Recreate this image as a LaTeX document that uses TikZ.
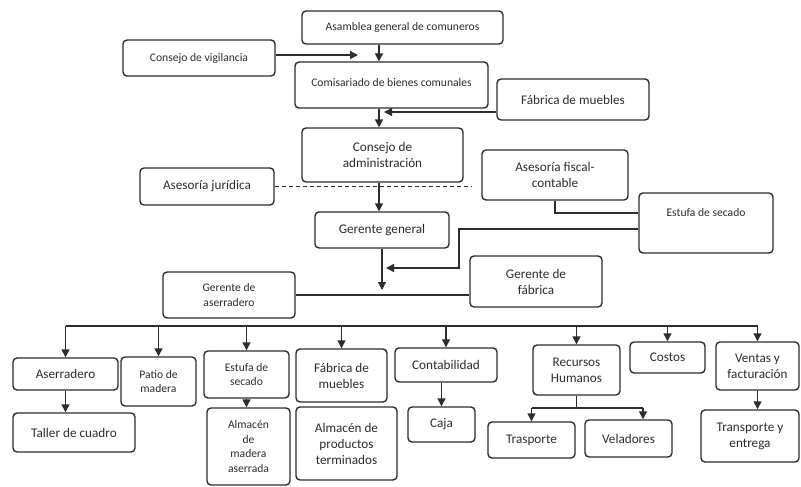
\documentclass[tikz,border=0pt]{standalone}
\usepackage{fontspec}
\setmainfont{Carlito}
\usetikzlibrary{arrows.meta, positioning, calc}
\definecolor{ink}{RGB}{45,45,45}

\begin{document}
\begin{tikzpicture}[x=1pt, y=-1pt,
    box/.style 2 args={draw=ink, text=ink, line width=1.4pt, rounded corners=4pt, align=center, inner sep=1pt,
        minimum width=#1pt, minimum height=#2pt, font=\fontsize{13.2}{16}\selectfont},
    sbox/.style 2 args={box={#1}{#2}, font=\fontsize{11.6}{14.4}\selectfont},
    arr/.style={draw=ink, line width=1.4pt, -{Triangle[length=8pt, width=8pt]}},
    link/.style={draw=ink, line width=1.3pt}]
    \useasboundingbox (0,0) rectangle (801,487);

    % upper part
    \node[sbox={201}{33}] (asamblea) at (402.5,27.5) {Asamblea general de comuneros};
    \node[sbox={152}{36}] (vigilancia) at (199,58) {Consejo de vigilancia};
    \node[sbox={193}{46}, text height=8pt, text depth=6pt] (comisariado) at (391.5,85) {Comisariado de bienes comunales};
    \node[box={152}{41}] (fabrica) at (573,99.5) {Fábrica de muebles};
    \node[box={161}{54}] (consejo) at (382.5,155) {Consejo de\\administración};
    \node[box={134}{37}] (juridica) at (207,186.5) {Asesoría jurídica};
    \node[box={146}{50}] (fiscal) at (555,175) {Asesoría fiscal-\\contable};
    \node[sbox={134}{60}, text height=9pt, text depth=23pt] (estufa) at (706,223) {Estufa de secado};
    \node[box={134}{36}] (gerente) at (382,230) {Gerente general};
    \node[sbox={132}{46}] (gaserradero) at (229,295) {Gerente de\\aserradero};
    \node[box={132}{51}] (gfabrica) at (536,281.5) {Gerente de\\fábrica};

    \coordinate (spine) at (379,0);
    \coordinate (vtip) at (358,55);
    \coordinate (ftip) at (384,112);
    \coordinate (turn) at (459,268);
    \coordinate (gtip) at (386,268);

    \draw[arr] (asamblea.south -| spine) -- (comisariado.north -| spine);
    \draw[arr] (comisariado.south -| spine) -- (consejo.north -| spine);
    \draw[arr] (consejo.south -| spine) -- (gerente.north -| spine);
    \draw[arr] (vigilancia.east |- vtip) -- (vtip);
    \draw[arr] (fabrica.west |- ftip) -- (ftip);
    \draw[link, dash pattern=on 4pt off 3pt, shorten >=10pt] (juridica.east) -- (juridica.east -| fiscal.west);
    \draw[link] (fiscal.south) |- ([yshift=10pt]estufa.west);
    \draw[arr] ([yshift=-6pt]estufa.west) -| (turn) -- (gtip);
    \draw[link] (gaserradero.east) -- (gaserradero.east -| gfabrica.west);
    \draw[arr, shorten >=5pt] (gerente.south) -- (gerente.south |- gaserradero.east);

    % departments
    \node[box={105}{32}] (aserradero) at (65.5,374) {Aserradero};
    \node[sbox={75}{49}] (patio) at (158.5,381.5) {Patio de\\madera};
    \node[sbox={85}{47}] (estufab) at (246.5,374.5) {Estufa de\\secado};
    \node[box={91}{53}] (fabricab) at (341.5,375.5) {Fábrica de\\muebles};
    \node[box={102}{34}] (contab) at (446,365) {Contabilidad};
    \node[box={87}{50}] (rrhh) at (576.5,370) {Recursos\\Humanos};
    \node[box={75}{31}] (costos) at (667.5,357.5) {Costos};
    \node[box={83}{48}] (ventas) at (757.5,366) {Ventas y\\facturación};

    \node[box={122}{39}] (taller) at (74,432.5) {Taller de cuadro};
    \node[sbox={83}{77}] (almacena) at (248.5,446.5) {Almacén\\de\\madera\\aserrada};
    \node[box={101}{73}] (almacenb) at (346.5,443.5) {Almacén de\\productos\\terminados};
    \node[box={67}{35}] (caja) at (441.5,424.5) {Caja};
    \node[box={87}{36}] (trasporte) at (531.5,440) {Trasporte};
    \node[box={87}{37}] (veladores) at (628.5,438.5) {Veladores};
    \node[box={98}{52}] (entrega) at (750,436) {Transporte y\\entrega};

    \coordinate (bus) at (0,326);
    \coordinate (rhbar) at (0,408);
    \coordinate (veldrop) at (643,0);

    \draw[link] (aserradero.north |- bus) -- (ventas.north |- bus);
    \foreach \n in {aserradero, patio, estufab, fabricab, contab, rrhh, costos, ventas}
        \draw[arr] (\n.north |- bus) -- (\n.north);

    \draw[arr] (aserradero.south) -- (aserradero.south |- taller.north);
    \draw[arr] (estufab.south) -- (estufab.south |- almacena.north);
    \draw[arr] (caja.north |- contab.south) -- (caja.north);
    \draw[arr] (ventas.south) -- (ventas.south |- entrega.north);
    \draw[link] (rrhh.south) -- (rrhh.south |- rhbar);
    \draw[link] (trasporte.north |- rhbar) -- (veldrop |- rhbar);
    \draw[arr] (trasporte.north |- rhbar) -- (trasporte.north);
    \draw[arr] (veldrop |- rhbar) -- (veldrop |- veladores.north);
\end{tikzpicture}
\end{document}
